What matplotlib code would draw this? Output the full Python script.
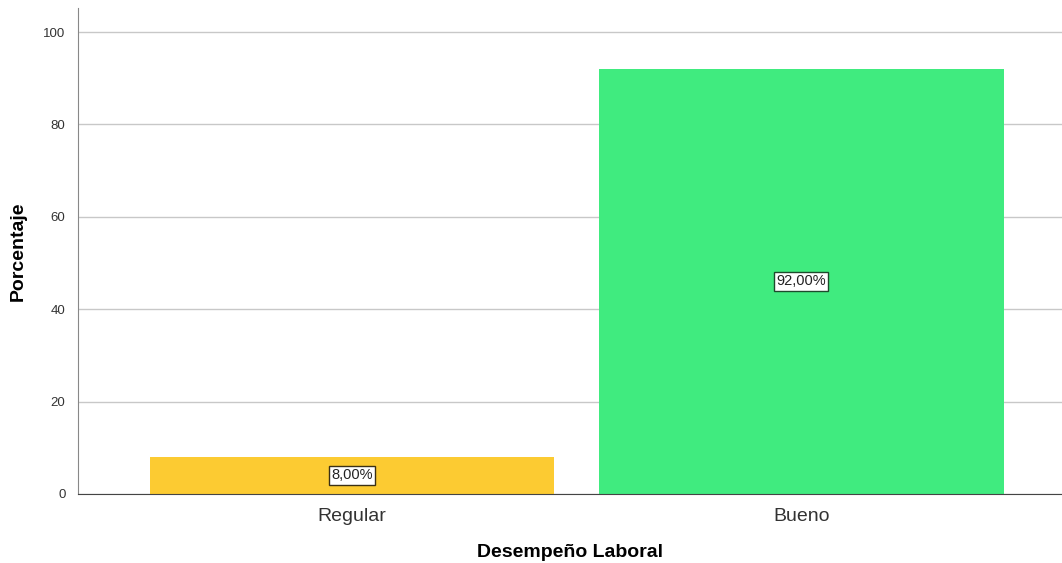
import matplotlib.pyplot as plt

categories = ["Regular", "Bueno"]
percentages = [8.0, 92.0]
bar_colors = ["#FCCB32", "#40EB7F"]
box_edges = ["#3a3015", "#1d4a2c"]
y_ticks = [0, 20, 40, 60, 80, 100]

plt.rcParams['font.family'] = ['Liberation Sans', 'DejaVu Sans']

fig = plt.figure(figsize=(10.62, 5.63), dpi=100)
ax = fig.add_axes([0.0734, 0.1226, 0.9266, 0.8632])

x = list(range(len(categories)))
ax.bar(x, percentages, width=0.9, color=bar_colors, zorder=2)

# value labels in the middle of each bar
for xi, val, ec in zip(x, percentages, box_edges):
    label = f"{val:.2f}%".replace(".", ",")
    ax.text(xi, val / 2, label, ha="center", va="center", fontsize=10.5, color="#222222",
            bbox=dict(boxstyle="square,pad=0.15", fc="white", ec=ec, lw=1), zorder=3)

ax.set_xlim(-0.61, 1.58)
ax.set_ylim(0, 105.2)
ax.set_yticks(y_ticks)
ax.set_xticks(x)
ax.set_xticklabels(categories, fontsize=14, color="#333333")
ax.tick_params(axis="y", labelsize=9.5, length=0, pad=9, labelcolor="#333333")
ax.tick_params(axis="x", length=0, pad=10)
ax.yaxis.grid(True, color="#c8c8c8", lw=1, zorder=0)
ax.set_axisbelow(True)

for s in ["top", "right"]:
    ax.spines[s].set_visible(False)
ax.spines["left"].set_color("#888888")
ax.spines["bottom"].set_color("#444444")

ax.set_ylabel("Porcentaje", fontsize=14, fontweight="bold", labelpad=12)
ax.set_xlabel("Desempeño Laboral", fontsize=14, fontweight="bold", labelpad=14)

fig.savefig("out.png", dpi=100)
